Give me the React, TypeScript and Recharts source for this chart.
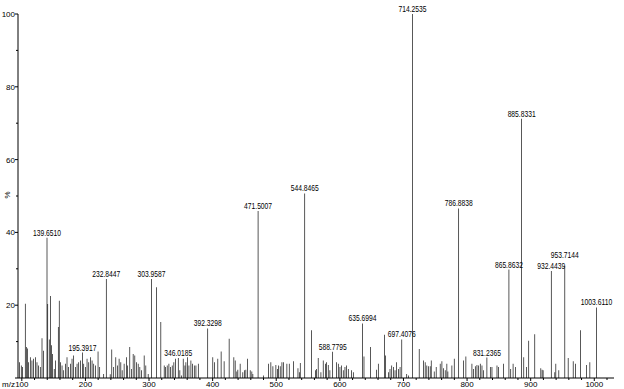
import React from 'react';
import { BarChart, Bar, XAxis, YAxis, LabelList } from 'recharts';

// labelled peaks: m/z and relative intensity (%)
const labelledMz = [
  139.651, 195.3917, 232.8447, 303.9587, 346.0185, 392.3298, 471.5007, 544.8465, 588.7795, 635.6994,
  697.4076, 714.2535, 786.8838, 831.2365, 865.8632, 885.8331, 932.4439, 953.7144, 1003.611,
];
const labelledIntensity = [
  38.5, 7.0, 27.2, 27.2, 5.5, 13.6, 45.9, 50.7, 7.2, 15.0,
  10.6, 100, 46.6, 5.6, 29.8, 71.2, 29.4, 30.8, 19.4,
];

// unlabelled peaks
const minorMz = [
  96.6, 99.2, 101.3, 105.5, 107.1, 108.7, 110.8, 113.4, 116.0, 118.6, 121.3, 123.9, 126.5, 129.1, 131.8, 133.9,
  140.8, 143.2, 145.3, 146.8, 148.5, 151.0, 153.0, 157.4, 158.9, 160.6, 163.3, 165.9, 168.5, 171.1, 173.7, 176.4,
  179.0, 181.6, 184.2, 186.9, 189.5, 192.1, 197.4, 200.0, 202.6, 205.3, 207.9, 210.5, 213.1, 215.7, 219.9, 222.5,
  228.8, 239.0, 241.5, 244.5, 247.8, 250.4, 253.0, 255.7, 257.8, 260.9, 264.6, 266.2, 269.8, 272.5, 275.1, 277.7,
  280.3, 283.0, 285.6, 288.2, 292.4, 295.0, 298.7, 311.8, 318.6, 323.9, 326.0, 328.6, 331.3, 333.9, 336.5, 339.1,
  341.8, 348.5, 351.2, 353.8, 356.5, 358.0, 360.7, 362.8, 365.9, 368.5, 371.2, 373.8, 377.5, 400.3, 402.9, 408.2,
  413.4, 418.1, 426.0, 433.4, 435.5, 438.1, 439.7, 443.3, 447.5, 450.2, 452.3, 454.9, 459.1, 461.7, 463.3, 480.1,
  488.0, 491.6, 494.8, 499.5, 502.1, 503.7, 506.3, 509.0, 511.6, 516.8, 520.5, 527.3, 534.2, 536.3, 537.8, 555.5,
  561.9, 563.4, 566.0, 570.3, 573.9, 577.6, 579.2, 581.8, 584.4, 594.9, 597.6, 600.2, 602.8, 605.4, 608.1, 610.7,
  613.3, 618.6, 621.2, 638.0, 648.5, 657.9, 660.5, 670.0, 672.1, 676.3, 678.9, 681.6, 684.2, 686.8, 689.4, 692.1,
  694.7, 705.2, 708.0, 724.8, 731.6, 734.2, 736.8, 739.5, 742.1, 743.7, 748.4, 751.5, 757.8, 760.5, 763.1, 765.7,
  768.3, 769.9, 776.2, 779.9, 794.6, 798.2, 807.7, 810.3, 813.0, 815.6, 818.2, 820.8, 823.5, 826.1, 836.6, 839.2,
  847.1, 849.7, 857.6, 868.7, 872.4, 876.1, 889.2, 893.4, 897.0, 906.5, 916.0, 918.0, 919.6, 938.0, 939.6, 944.3,
  959.0, 966.9, 970.6, 978.4, 987.9, 993.1,
];
const minorIntensity = [
  4.3, 3.4, 3.0, 20.4, 8.5, 8.1, 4.3, 5.7, 4.8, 5.3, 5.7, 4.3, 3.4, 3.0, 10.9, 7.5,
  20.3, 10.6, 22.5, 9.0, 6.6, 2.5, 4.8, 14.0, 21.2, 4.3, 3.4, 2.1, 3.9, 5.7, 3.0, 3.9,
  5.3, 6.2, 3.0, 3.9, 4.3, 4.8, 3.9, 3.0, 5.3, 4.3, 5.7, 4.8, 3.9, 3.4, 7.3, 3.0,
  1.1, 1.0, 7.8, 3.0, 5.7, 3.4, 5.3, 4.3, 2.1, 3.9, 5.7, 3.4, 8.5, 2.5, 6.6, 6.2,
  4.3, 3.9, 3.0, 2.1, 6.2, 3.4, 1.1, 24.9, 15.4, 3.4, 3.0, 3.4, 3.9, 3.0, 3.4, 4.3,
  5.3, 2.1, 0.7, 5.3, 3.4, 4.3, 5.7, 3.4, 4.8, 3.9, 3.4, 3.4, 3.9, 5.7, 4.3, 5.3,
  7.3, 4.6, 10.8, 5.7, 4.8, 1.8, 2.3, 3.9, 1.6, 2.1, 2.3, 5.3, 2.1, 1.8, 1.1, 0.7,
  3.9, 4.3, 3.2, 3.6, 2.5, 3.4, 3.2, 4.3, 4.3, 3.9, 3.9, 4.6, 2.7, 1.6, 4.1, 13.1,
  2.1, 2.5, 5.5, 1.6, 4.8, 3.9, 4.3, 3.6, 2.1, 4.3, 3.9, 3.0, 3.4, 2.1, 3.0, 3.4,
  2.5, 2.1, 1.6, 5.9, 8.5, 2.3, 3.9, 11.9, 6.2, 1.6, 2.5, 3.4, 3.0, 2.1, 4.3, 2.5,
  3.0, 1.1, 0.7, 8.0, 4.8, 4.3, 3.4, 3.2, 3.2, 4.8, 1.8, 3.0, 3.9, 4.6, 2.7, 2.1,
  3.9, 1.8, 3.4, 5.3, 4.8, 5.9, 3.9, 2.5, 3.2, 3.6, 3.4, 3.9, 3.4, 2.1, 3.0, 3.0,
  3.4, 3.0, 3.9, 2.5, 3.9, 3.0, 5.7, 3.0, 10.2, 12.0, 2.7, 2.3, 2.1, 1.6, 3.9, 2.1,
  5.5, 4.6, 3.9, 13.1, 3.6, 4.3,
];

const xTicks = [
  100, 120, 140, 160, 180, 200, 220, 240, 260, 280, 300, 320, 340, 360, 380, 400, 420, 440, 460, 480,
  500, 520, 540, 560, 580, 600, 620, 640, 660, 680, 700, 720, 740, 760, 780, 800, 820, 840, 860, 880,
  900, 920, 940, 960, 980, 1000, 1020,
];
const yTicks = [0, 10, 20, 30, 40, 50, 60, 70, 80, 90, 100];

// labels that sit above a neighbour's label
const labelLift: Record<string, number> = { '953.7144': 6 };

const font = '"Liberation Sans", Arial, sans-serif';

const peaks = [
  ...labelledMz.map((mz, i) => ({ mz, pct: labelledIntensity[i], label: mz.toFixed(4) })),
  ...minorMz.map((mz, i) => ({ mz, pct: minorIntensity[i], label: undefined as string | undefined })),
].sort((a, b) => a.mz - b.mz);

const XTick = (props: any) => {
  const { x, y, payload } = props;
  const major = payload.value % 100 === 0;
  return (
    <g>
      <line x1={x} x2={x} y1={y} y2={y + (major ? 3 : 2)} stroke="#000" />
      {major && (
        <text x={x} y={y + 9} textAnchor="middle" fontSize={8} fontFamily={font} fill="#000">
          {payload.value}
        </text>
      )}
    </g>
  );
};

const YTick = (props: any) => {
  const { x, y, payload } = props;
  const major = payload.value % 20 === 0;
  return (
    <g>
      <line x1={x - (major ? 3 : 2)} x2={x} y1={y} y2={y} stroke="#000" />
      {major && payload.value > 0 && (
        <text x={x - 3} y={y + 3} textAnchor="end" fontSize={8} fontFamily={font} fill="#000">
          {payload.value}
        </text>
      )}
    </g>
  );
};

const PeakLabel = (props: any) => {
  const { x, y, width, value } = props;
  if (!value) return null;
  const lift = labelLift[value] || 0;
  return (
    <text
      x={x + width / 2}
      y={y - 2 - lift}
      textAnchor="middle"
      fontSize={9}
      fontFamily={font}
      fill="#000"
      textLength={value.length * 3.5}
      lengthAdjust="spacingAndGlyphs"
    >
      {value}
    </text>
  );
};

export default function App() {
  return (
    <div style={{ position: 'absolute', left: 0, top: 0, background: '#fff' }}>
      <BarChart width={624} height={389} data={peaks} margin={{ top: 14, right: 10, left: 0, bottom: 0 }}>
        <XAxis
          dataKey="mz"
          type="number"
          domain={[94, 1031]}
          ticks={xTicks}
          interval={0}
          height={11}
          tickSize={0}
          tickMargin={0}
          tickLine={false}
          tick={<XTick />}
          axisLine={{ stroke: '#000' }}
          label={{
            content: (p: any) => (
              <text x={p.viewBox.x - 16} y={p.viewBox.y + 9} fontSize={8} fontFamily={font} fill="#000">
                m/z
              </text>
            ),
          }}
        />
        <YAxis
          type="number"
          domain={[0, 100]}
          ticks={yTicks}
          interval={0}
          width={18}
          tickSize={0}
          tickMargin={0}
          tickLine={false}
          tick={<YTick />}
          axisLine={{ stroke: '#000' }}
          label={{
            content: () => (
              <text
                x={10}
                y={195}
                fontSize={8}
                fontFamily={font}
                fill="#000"
                textAnchor="middle"
                transform="rotate(-90 10 195)"
              >
                %
              </text>
            ),
          }}
        />
        <Bar dataKey="pct" barSize={1} fill="#000" isAnimationActive={false}>
          <LabelList dataKey="label" content={<PeakLabel />} />
        </Bar>
      </BarChart>
    </div>
  );
}
